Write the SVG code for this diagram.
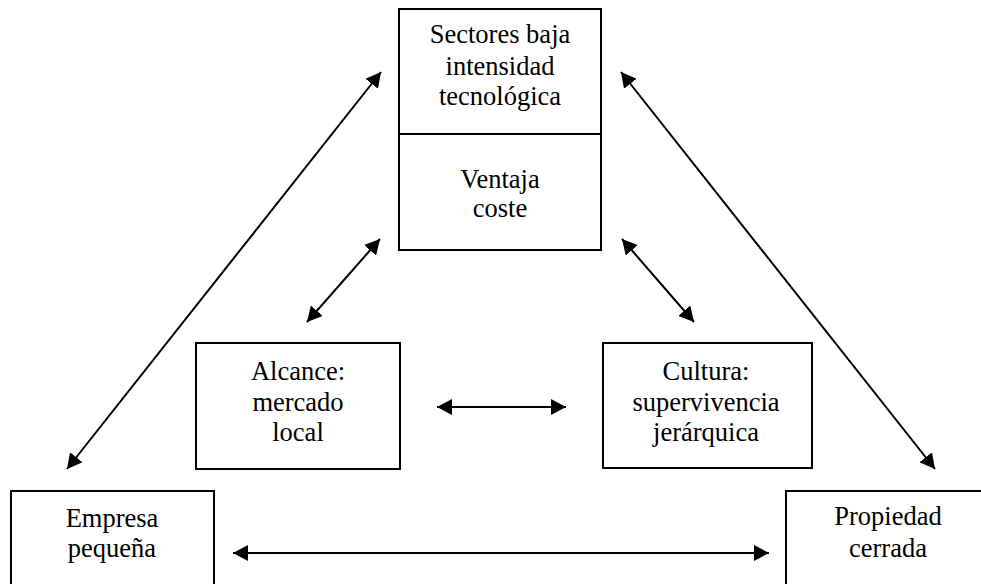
<svg xmlns="http://www.w3.org/2000/svg" width="981" height="584" viewBox="0 0 981 584">
<style>
.box{fill:#fff;stroke:#000;stroke-width:2}
.t{font-family:'Liberation Serif','DejaVu Serif',serif;font-size:26.5px;fill:#000;text-anchor:middle}
.c{stroke:#000;stroke-width:2;fill:none;marker-start:url(#ah);marker-end:url(#ah)}
</style>
<defs>
<marker id="ah" markerUnits="userSpaceOnUse" markerWidth="16" markerHeight="16" refX="15" refY="8" orient="auto-start-reverse" viewBox="0 0 16 16">
<path d="M0,0 L15,8 L0,16 z" fill="#000"/>
</marker>
</defs>
<rect width="981" height="584" fill="#fff"/>
<g id="sectores" font-family="Liberation Serif, DejaVu Serif, serif">
<rect class="box" x="399" y="9" width="202" height="241"/>
<line x1="399" y1="134" x2="601" y2="134" stroke="#000" stroke-width="2"/>
<text class="t" x="500" y="43">Sectores baja</text>
<text class="t" x="500" y="75">intensidad</text>
<text class="t" x="500" y="105">tecnológica</text>
<text class="t" x="500" y="188">Ventaja</text>
<text class="t" x="500" y="217">coste</text>
</g>
<g id="alcance">
<rect class="box" x="196" y="343" width="204" height="126"/>
<text class="t" x="298" y="380">Alcance:</text>
<text class="t" x="298" y="411">mercado</text>
<text class="t" x="298" y="441">local</text>
</g>
<g id="cultura">
<rect class="box" x="603" y="343" width="209" height="125"/>
<text class="t" x="706" y="380">Cultura:</text>
<text class="t" x="706" y="411">supervivencia</text>
<text class="t" x="706" y="441">jerárquica</text>
</g>
<g id="empresa">
<rect class="box" x="11" y="491" width="203" height="100"/>
<text class="t" x="112" y="527">Empresa</text>
<text class="t" x="112" y="557">pequeña</text>
</g>
<g id="propiedad">
<rect class="box" x="786" y="491" width="200" height="100"/>
<text class="t" x="888" y="525">Propiedad</text>
<text class="t" x="888" y="557">cerrada</text>
</g>
<g id="connectors">
<line class="c" x1="381" y1="72" x2="67" y2="469"/>
<line class="c" x1="621" y1="72" x2="935" y2="469"/>
<line class="c" x1="380" y1="239" x2="307" y2="322"/>
<line class="c" x1="622" y1="239" x2="694" y2="322"/>
<line class="c" x1="437" y1="407" x2="566" y2="407"/>
<line class="c" x1="233" y1="553" x2="769" y2="553"/>
</g>
</svg>
